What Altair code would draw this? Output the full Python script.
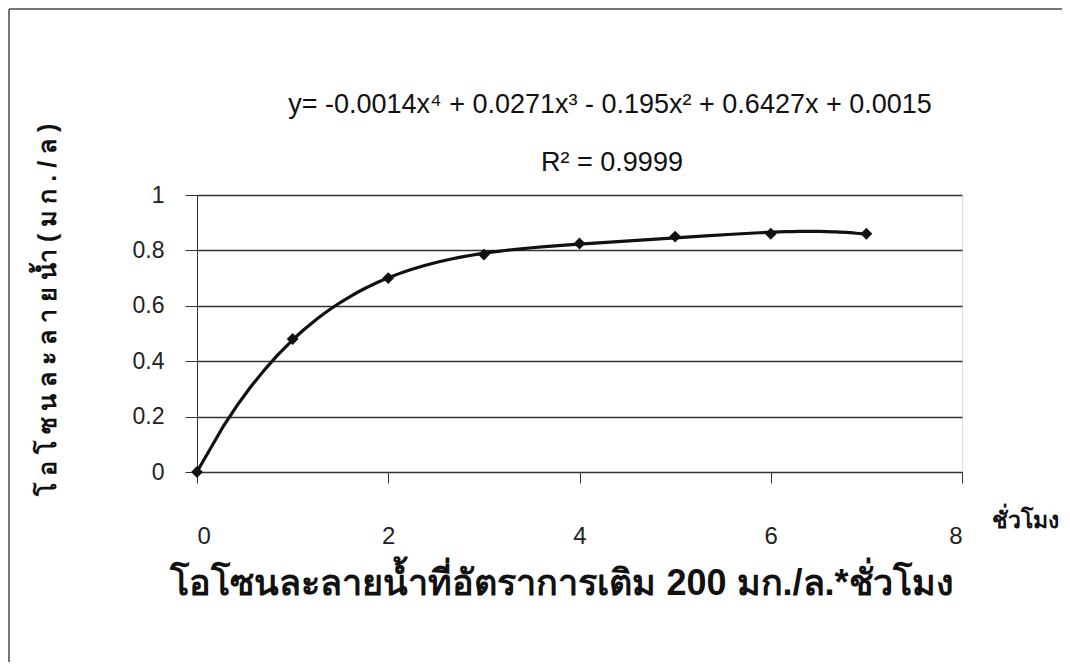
import altair as alt
import pandas as pd

# ---- data ----
hours = [0, 1, 2, 3, 4, 5, 6, 7]
ozone = [0.0, 0.48, 0.70, 0.785, 0.825, 0.85, 0.86, 0.86]
x_ticks = [0, 2, 4, 6, 8]
y_ticks = [0, 0.2, 0.4, 0.6, 0.8, 1.0]

equation = "y= -0.0014x⁴ + 0.0271x³ - 0.195x² + 0.6427x + 0.0015"
r_squared = "R² = 0.9999"
chart_title = "โอโซนละลายน้ำที่อัตราการเติม 200 มก./ล.*ชั่วโมง"
y_title = "โ อ โ ซ น ล ะ ล า ย น้ำ  ( ม ก . / ล )"
x_title = "ชั่วโมง"

df = pd.DataFrame({"hours": hours, "ozone": ozone})

PW, PH = 765, 277
FONT = "Liberation Sans"

x_enc = alt.X(
    "hours:Q",
    scale=alt.Scale(domain=[0, 8], nice=False, zero=False),
    axis=alt.Axis(
        values=x_ticks, title=None, grid=False, tickSize=11, tickColor="#333",
        domainColor="#333", labelFontSize=24, labelPadding=41, labelColor="#222",
        labelFont=FONT, format="~g",
    ),
)
y_enc = alt.Y(
    "ozone:Q",
    scale=alt.Scale(domain=[0, 1], nice=False),
    axis=alt.Axis(
        values=y_ticks, title=None, grid=True, gridColor="#333", gridWidth=1.3,
        tickSize=12, tickColor="#333", domainColor="#333", labelFontSize=23,
        labelPadding=21, labelColor="#222", format="~g", labelFont=FONT,
    ),
)

base = alt.Chart(df)

trend = base.transform_regression(
    "hours", "ozone", method="poly", order=4
).mark_line(color="#111", strokeWidth=3.2).encode(x=x_enc, y=y_enc)

points = base.mark_point(
    shape="diamond", filled=True, color="#111", size=140, opacity=1
).encode(x=x_enc, y=y_enc)


def label(text, x, y, size, weight="normal", angle=0, align="center", font=FONT):
    return alt.Chart(pd.DataFrame({"t": [text]})).mark_text(
        fontSize=size, fontWeight=weight, angle=angle, align=align,
        baseline="middle", font=font, color="#111",
    ).encode(text="t:N", x=alt.value(x), y=alt.value(y))


one = pd.DataFrame({"a": [0]})
frame_left = alt.Chart(one).mark_rule(color="#777", strokeWidth=2).encode(
    x=alt.value(-188), y=alt.value(-186), y2=alt.value(480)
)
frame_top = alt.Chart(one).mark_rule(color="#777", strokeWidth=2).encode(
    x=alt.value(-188), x2=alt.value(900), y=alt.value(-186)
)

chart = alt.layer(
    frame_left,
    frame_top,
    trend,
    points,
    label(equation, 413, -90, 27),
    label(r_squared, 415, -32, 27),
    label(chart_title, 365, 389, 36, weight="bold"),
    label(x_title, 795, 326, 23, weight="bold", align="left"),
    label(y_title, -149, 115, 25, weight="bold", angle=270),
).properties(
    width=PW, height=PH,
    autosize=alt.AutoSizeParams(type="none"),
    padding={"left": 189, "top": 187, "right": 100, "bottom": 190},
).configure_view(
    stroke="#444", strokeWidth=1
).configure(background="white")

chart.save("out.html", embed_options={"renderer": "svg", "actions": False})
